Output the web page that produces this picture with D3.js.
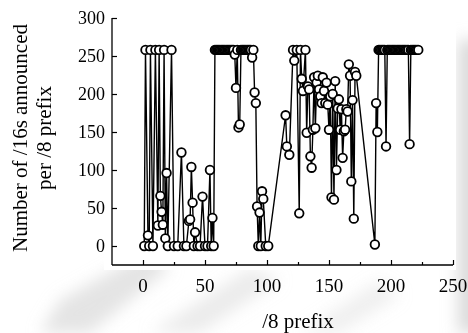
<!DOCTYPE html>
<html>
<head>
<meta charset="utf-8">
<script src="https://cdn.jsdelivr.net/npm/d3@7"></script>
<style>
  html, body { margin: 0; padding: 0; background: #fff; }
  svg { display: block; }
</style>
</head>
<body>
<svg id="chart" width="468" height="333"></svg>
<script>
// /8 prefix on x, number of announced /16s on y
const prefixes = [
  1, 2, 4, 5, 6, 8, 10, 12, 13, 14, 15, 16, 17, 18, 19, 20, 23, 25, 28, 31,
  33, 35, 37, 38, 39, 40, 41, 42, 44, 46, 48, 50, 52, 54, 55, 56, 57,
  58, 59, 60, 61, 62, 63, 64, 65, 66, 67, 68, 69, 70, 71, 72, 73,
  74, 75, 76, 77, 78, 79, 80, 81, 82, 83, 84, 85, 86, 87, 88, 89,
  90, 91, 92, 93, 94, 95, 96, 97, 99, 101,
  115, 116, 118, 121, 122, 124, 126, 127, 128, 129, 131, 132, 133, 134, 135,
  136, 137, 138, 139, 140, 141, 142, 143, 144, 145, 146, 147, 148, 149, 150,
  151, 152, 153, 154, 155, 156, 157, 158, 159, 160, 161, 162, 163, 164, 165,
  166, 167, 168, 169, 170, 171, 172,
  187, 188, 189, 190, 191, 192, 193, 194, 195, 196, 197, 198, 199, 200,
  201, 202, 203, 204, 205, 206, 207, 208, 209, 210, 211, 212, 213, 214,
  215, 216, 217, 218, 219, 220, 221, 222
];
const counts = [
  0, 258, 14, 0, 258, 0, 258, 27, 258, 66, 45, 28, 258, 10, 96, 0, 258, 0, 0, 123,
  0, 0, 33, 35, 104, 57, 0, 18, 0, 0, 65, 0, 0, 100, 0, 37, 0,
  258, 258, 258, 258, 258, 258, 258, 258, 258, 258, 258, 258, 258, 258, 258, 258,
  252, 208, 258, 156, 160, 258, 258, 258, 258, 258, 258, 258, 258, 258, 248, 258,
  202, 188, 52, 0, 44, 0, 72, 62, 0, 0,
  172, 131, 120, 258, 244, 258, 43, 258, 220, 204, 258, 149, 210, 206, 118,
  103, 153, 222, 155, 215, 224, 206, 197, 188, 222, 204, 188, 215, 186, 153,
  197, 64, 200, 61, 217, 100, 181, 193, 153, 180, 116, 151, 153, 180, 177,
  239, 224, 85, 192, 36, 229, 224,
  2, 188, 150, 258, 258, 258, 258, 258, 258, 131, 258, 258, 258, 258,
  258, 258, 258, 258, 258, 258, 258, 258, 258, 258, 258, 258, 258, 258,
  134, 258, 258, 258, 258, 258, 258, 258
];
const xTicks = [0, 50, 100, 150, 200, 250];
const xMinorTicks = [25, 75, 125, 175, 225];
const yTicks = [0, 50, 100, 150, 200, 250, 300];

const data = prefixes.map((p, i) => ({ x: p, y: counts[i] }));

const svg = d3.select('#chart');
const font = '"Liberation Serif", "Times New Roman", serif';

// faint watermark behind the figure
const defs = svg.append('defs');
defs.append('filter').attr('id', 'blur')
  .append('feGaussianBlur').attr('stdDeviation', 8);
const wm = svg.append('g').attr('filter', 'url(#blur)').attr('fill', '#d2d2d2');
wm.append('path').attr('d', 'M60,300 L150,250 L170,268 L90,333 L40,333 Z').attr('opacity', 0.6);
wm.append('path').attr('d', 'M150,333 L250,268 L280,280 L200,333 Z').attr('opacity', 0.45);
wm.append('path').attr('d', 'M300,333 L380,280 L400,295 L340,333 Z').attr('opacity', 0.35);
wm.append('rect').attr('x', 458).attr('y', 40).attr('width', 30).attr('height', 293).attr('opacity', 0.8);
svg.append('rect').attr('x', 104).attr('y', 0).attr('width', 352).attr('height', 270).attr('fill', '#fff');

const x = d3.scaleLinear().domain([-25, 250]).range([112, 453]);
const y = d3.scaleLinear().domain([-25, 300]).range([265, 18]);

// axes: ticks pointing inward, labels outside
const xAxis = svg.append('g')
  .attr('transform', `translate(0,${y.range()[0]})`)
  .call(d3.axisTop(x).tickValues(xTicks).tickSize(5).tickFormat(''));
xAxis.append('g').call(d3.axisTop(x).tickValues(xMinorTicks).tickSize(3).tickFormat(''));
xAxis.selectAll('.domain').attr('stroke-width', 1.3).attr('d', `M${x.range()[0]},0H${x.range()[1]}`);
xAxis.selectAll('.domain').filter((d, i) => i > 0).remove();
xAxis.selectAll('.tick line').attr('stroke-width', 1.2);

svg.append('g').selectAll('text')
  .data(xTicks)
  .join('text')
  .attr('x', d => x(d))
  .attr('y', 292)
  .attr('text-anchor', 'middle')
  .attr('font-family', font)
  .attr('font-size', 19)
  .text(d => d);

const yAxis = svg.append('g')
  .attr('transform', `translate(${x.range()[0]},0)`)
  .call(d3.axisRight(y).tickValues(yTicks).tickSize(5).tickFormat(''));
yAxis.select('.domain').attr('stroke-width', 1.3).attr('d', `M0,${y.range()[0]}V${y.range()[1]}`);
yAxis.selectAll('.tick line').attr('stroke-width', 1.2);

svg.append('g').selectAll('text')
  .data(yTicks)
  .join('text')
  .attr('x', 105)
  .attr('y', d => y(d))
  .attr('dy', '0.35em')
  .attr('text-anchor', 'end')
  .attr('font-family', font)
  .attr('font-size', 18)
  .text(d => d);

// axis titles
svg.append('text')
  .attr('x', 298)
  .attr('y', 328)
  .attr('text-anchor', 'middle')
  .attr('font-family', font)
  .attr('font-size', 21)
  .text('/8 prefix');

const yTitle = svg.append('text')
  .attr('transform', 'translate(0,138) rotate(-90)')
  .attr('text-anchor', 'middle')
  .attr('font-family', font)
  .attr('font-size', 21);
yTitle.append('tspan').attr('x', 0).attr('y', 27).text('Number of /16s announced');
yTitle.append('tspan').attr('x', 0).attr('y', 51).text('per /8 prefix');

// series
const line = d3.line().x(d => x(d.x)).y(d => y(d.y));
svg.append('path')
  .datum(data)
  .attr('fill', 'none')
  .attr('stroke', '#000')
  .attr('stroke-width', 1.4)
  .attr('d', line);

svg.append('g').selectAll('circle')
  .data(data)
  .join('circle')
  .attr('cx', d => x(d.x))
  .attr('cy', d => y(d.y))
  .attr('r', 4.3)
  .attr('fill', '#fff')
  .attr('stroke', '#000')
  .attr('stroke-width', 1.8);
</script>
</body>
</html>
